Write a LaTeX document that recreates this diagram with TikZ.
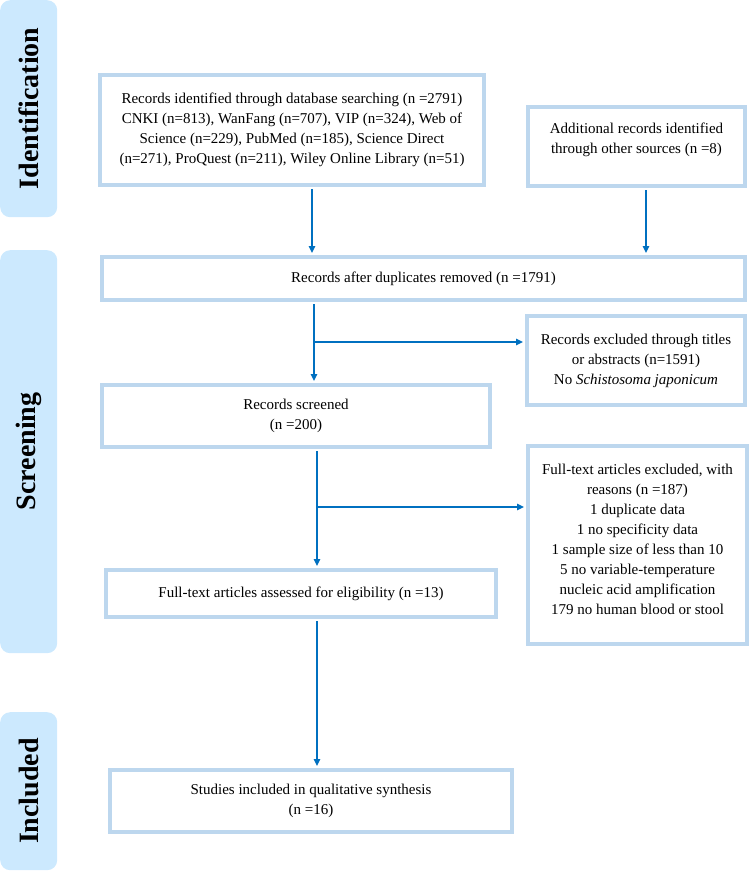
\documentclass[tikz,border=0pt]{standalone}
\usepackage{fontspec}
\setmainfont{Liberation Serif}
\usetikzlibrary{arrows.meta}
\definecolor{boxline}{RGB}{189,215,238}
\definecolor{sidefill}{RGB}{204,233,254}
\definecolor{arrowblue}{RGB}{0,112,192}
\begin{document}
\begin{tikzpicture}[x=1pt,y=-1pt,
  box/.style={draw=boxline, line width=4pt, fill=white, align=center, inner sep=0pt,
    font=\fontsize{15pt}{20pt}\selectfont},
  txt/.style={align=center, inner sep=0pt, font=\fontsize{15pt}{20pt}\selectfont},
  side/.style={fill=sidefill, rounded corners=10pt, inner sep=0pt, anchor=north west},
  sidetext/.style={rotate=90, inner sep=0pt, font=\fontsize{28pt}{30pt}\selectfont\bfseries},
  arr/.style={draw=arrowblue, line width=1.5pt, shorten >=2pt, shorten <=2pt,
    -{Triangle[length=7pt,width=6.5pt]}}]
\useasboundingbox (0,0) rectangle (750,872);

% side bars
\node[side, minimum width=57pt, minimum height=217pt] (s1) at (0,0) {};
\node[side, minimum width=57pt, minimum height=403pt] (s2) at (0,250) {};
\node[side, minimum width=57pt, minimum height=158pt] (s3) at (0,712) {};
\node[sidetext] (t1) at (28.5,108.5) {Identification};
\node[sidetext] (t2) at (28.5,451.5) {Screening};
\node[sidetext] (t3) at (28.5,791) {Included};

% boxes
\node[box, minimum width=384pt, minimum height=110pt] (b1) at (292,130)
  {Records identified through database searching (n =2791)\\
   CNKI (n=813), WanFang (n=707), VIP (n=324), Web of\\
   Science (n=229), PubMed (n=185), Science Direct\\
   (n=271), ProQuest (n=211), Wiley Online Library (n=51)};
\node[box, minimum width=217pt, minimum height=79pt] (b2) at (636.5,146.5) {};
\node[txt] (b2t) at (636.5,140) {Additional records identified\\ through other sources (n =8)};
\node[box, minimum width=643pt, minimum height=43pt] (b3) at (423.5,278.5)
  {Records after duplicates removed (n =1791)};
\node[box, minimum width=218pt, minimum height=89pt] (b4) at (636,360.5)
  {Records excluded through titles\\ or abstracts (n=1591)\\ No \textit{Schistosoma japonicum}};
\node[box, minimum width=388pt, minimum height=62pt] (b5) at (296,416)
  {Records screened\\ (n =200)};
\node[box, minimum width=219pt, minimum height=198pt] (b6) at (637.5,545) {};
\node[txt] (b6t) at (637.5,539)
  {Full-text articles excluded, with\\ reasons (n =187)\\ 1 duplicate data\\
   1 no specificity data\\ 1 sample size of less than 10\\ 5 no variable-temperature\\
   nucleic acid amplification\\ 179 no human blood or stool};
\node[box, minimum width=390pt, minimum height=47pt] (b7) at (301,593.5)
  {Full-text articles assessed for eligibility (n =13)};
\node[box, minimum width=402pt, minimum height=62pt] (b8) at (311,801)
  {Studies included in qualitative synthesis\\ (n =16)};

% connectors
\coordinate (x1) at (312,0);
\coordinate (x2) at (646,0);
\coordinate (x3) at (314,0);
\coordinate (x4) at (317,0);
\coordinate (j1) at (314,342);
\coordinate (j2) at (317,507);
\draw[arr] (b1.south -| x1) -- (b3.north -| x1);
\draw[arr] (b2.south -| x2) -- (b3.north -| x2);
\draw[arr] (b3.south -| x3) -- (b5.north -| x3);
\draw[arr, shorten <=0pt] (j1) -- (j1 -| b4.west);
\draw[arr] (b5.south -| x4) -- (b7.north -| x4);
\draw[arr, shorten <=0pt] (j2) -- (j2 -| b6.west);
\draw[arr] (b7.south -| x4) -- (b8.north -| x4);
\end{tikzpicture}
\end{document}
